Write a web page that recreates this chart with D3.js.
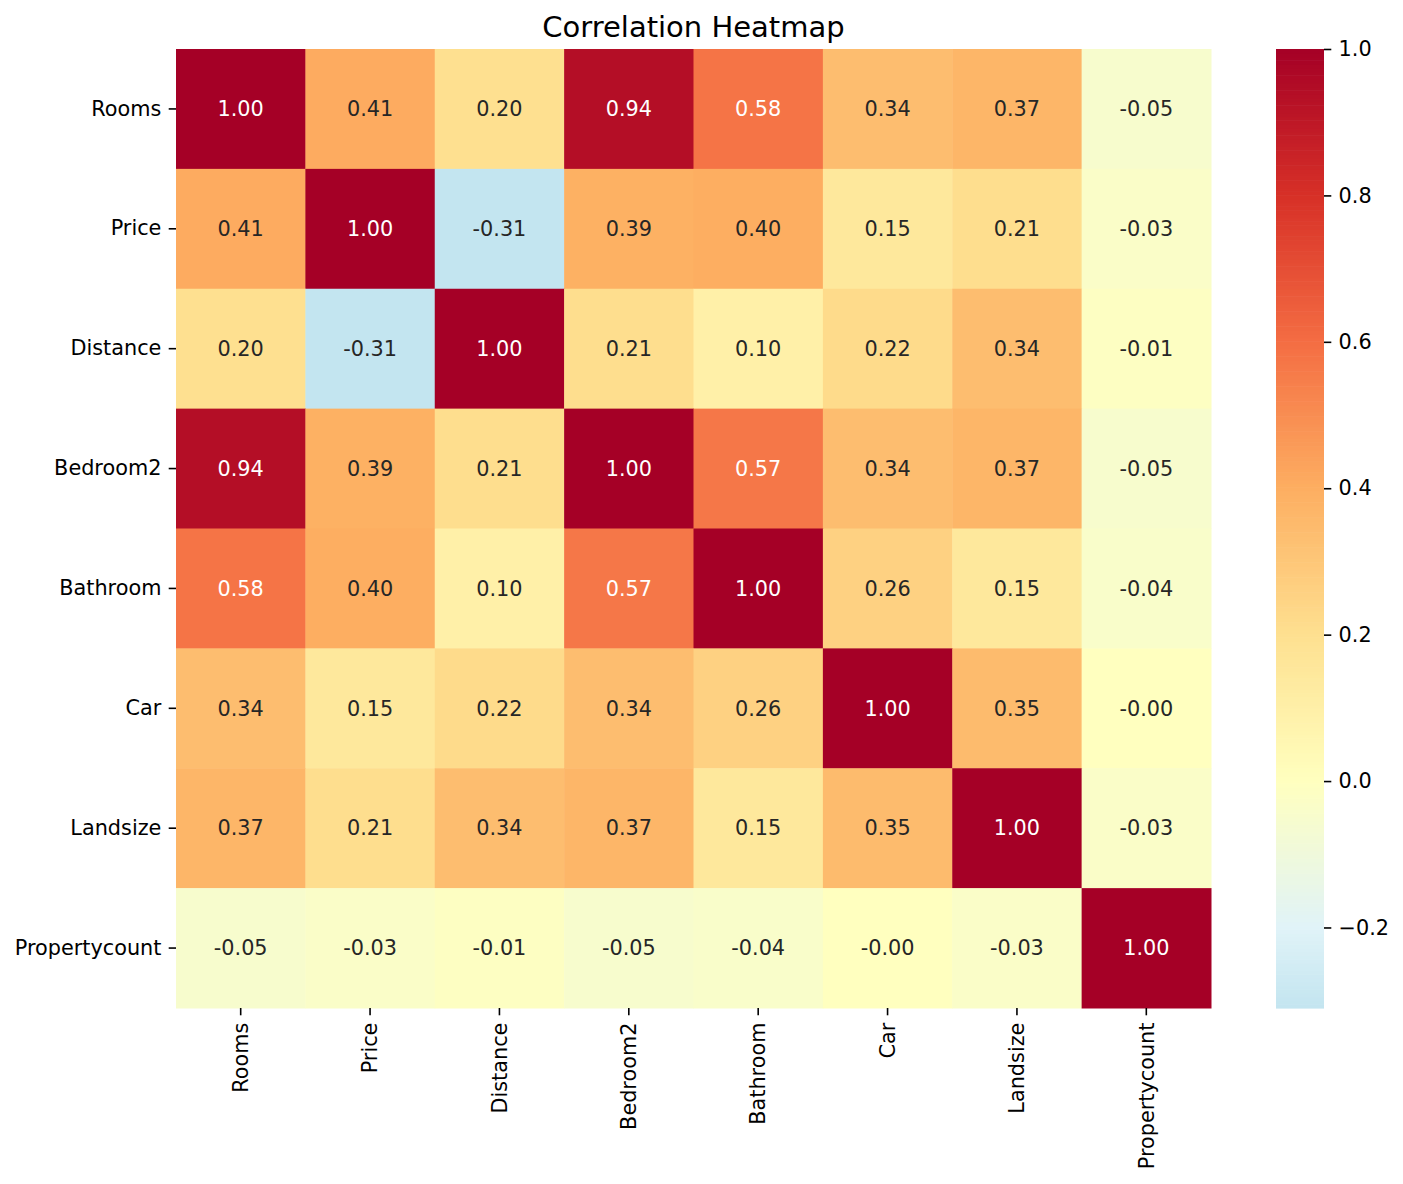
<!DOCTYPE html>
<html>
<head>
<meta charset="utf-8">
<script src="https://cdn.jsdelivr.net/npm/d3@7"></script>
<style>
  body { margin: 0; background: #fff; }
  text { font-family: "DejaVu Sans", sans-serif; }
</style>
</head>
<body>
<div id="chart"></div>
<script>
const labels = ["Rooms", "Price", "Distance", "Bedroom2", "Bathroom", "Car", "Landsize", "Propertycount"];

// correlation rows, same order as labels
const rooms    = [1.00, 0.41, 0.20, 0.94, 0.58, 0.34, 0.37, -0.05];
const price    = [0.41, 1.00, -0.31, 0.39, 0.40, 0.15, 0.21, -0.03];
const distance = [0.20, -0.31, 1.00, 0.21, 0.10, 0.22, 0.34, -0.01];
const bedroom2 = [0.94, 0.39, 0.21, 1.00, 0.57, 0.34, 0.37, -0.05];
const bathroom = [0.58, 0.40, 0.10, 0.57, 1.00, 0.26, 0.15, -0.04];
const car      = [0.34, 0.15, 0.22, 0.34, 0.26, 1.00, 0.35, -0.001];
const landsize = [0.37, 0.21, 0.34, 0.37, 0.15, 0.35, 1.00, -0.03];
const propcnt  = [-0.05, -0.03, -0.01, -0.05, -0.04, -0.001, -0.03, 1.00];
const matrix = [rooms, price, distance, bedroom2, bathroom, car, landsize, propcnt];

const cbarTicks = [-0.2, 0.0, 0.2, 0.4, 0.6, 0.8, 1.0];

const W = 1403, H = 1184;
const m = { left: 176, right: 1211, top: 49, bottom: 1008 };
const cbLeft = 1276, cbRight = 1324;
const fs = 20.8, tickLen = 7.3, tickPad = 7.3;

// RdYlBu_r, centred on 0 (seaborn center=0)
const rdylbu = ["#313695", "#4575b4", "#74add1", "#abd9e9", "#e0f3f8", "#ffffbf",
                "#fee090", "#fdae61", "#f46d43", "#d73027", "#a50026"];
const color = d3.scaleLinear()
  .domain(d3.range(11).map(i => -1 + i * 0.2))
  .range(rdylbu)
  .interpolate(d3.interpolateRgb)
  .clamp(true);

const flat = matrix.flatMap((row, i) => row.map((v, j) => ({ r: labels[i], c: labels[j], v })));
const vmin = d3.min(flat, d => d.v), vmax = d3.max(flat, d => d.v);

function lum(c) {
  const rgb = d3.rgb(c);
  const f = x => { x /= 255; return x <= 0.03928 ? x / 12.92 : Math.pow((x + 0.055) / 1.055, 2.4); };
  return 0.2126 * f(rgb.r) + 0.7152 * f(rgb.g) + 0.0722 * f(rgb.b);
}

const svg = d3.select("#chart").append("svg").attr("width", W).attr("height", H);

const x = d3.scaleBand().domain(labels).range([m.left, m.right]);
const y = d3.scaleBand().domain(labels).range([m.top, m.bottom]);

svg.append("g").selectAll("rect")
  .data(flat)
  .join("rect")
    .attr("x", d => x(d.c))
    .attr("y", d => y(d.r))
    .attr("width", x.bandwidth() + 0.5)
    .attr("height", y.bandwidth() + 0.5)
    .attr("fill", d => color(d.v));

svg.append("g").selectAll("text")
  .data(flat)
  .join("text")
    .attr("x", d => x(d.c) + x.bandwidth() / 2)
    .attr("y", d => y(d.r) + y.bandwidth() / 2)
    .attr("dy", "0.35em")
    .attr("text-anchor", "middle")
    .attr("font-size", fs)
    .attr("fill", d => lum(color(d.v)) > 0.408 ? "#262626" : "#fff")
    .text(d => d.v.toFixed(2));

// axes
const yAxis = svg.append("g")
  .attr("transform", `translate(${m.left},0)`)
  .call(d3.axisLeft(y).tickSize(tickLen).tickPadding(tickPad));
const xAxis = svg.append("g")
  .attr("transform", `translate(0,${m.bottom})`)
  .call(d3.axisBottom(x).tickSize(tickLen).tickPadding(tickPad));
xAxis.selectAll("text")
  .attr("transform", "rotate(-90)")
  .attr("text-anchor", "end")
  .attr("x", -(tickLen + tickPad))
  .attr("y", 0)
  .attr("dy", "0.35em");

// colorbar
const cy = d3.scaleLinear().domain([vmin, vmax]).range([m.bottom, m.top]);
const steps = d3.range(256).map(i => vmin + (vmax - vmin) * i / 256);
const stepH = (m.bottom - m.top) / 256;
svg.append("g").selectAll("rect")
  .data(steps)
  .join("rect")
    .attr("x", cbLeft)
    .attr("width", cbRight - cbLeft)
    .attr("y", d => cy(d) - stepH)
    .attr("height", stepH + 0.6)
    .attr("fill", d => color(d + (vmax - vmin) / 512));

const cAxis = svg.append("g")
  .attr("transform", `translate(${cbRight},0)`)
  .call(d3.axisRight(cy).tickValues(cbarTicks).tickFormat(d3.format(".1f")).tickSize(tickLen).tickPadding(tickPad));

[xAxis, yAxis, cAxis].forEach(a => {
  a.select(".domain").remove();
  a.selectAll("line").attr("stroke", "#000").attr("stroke-width", 1.6);
  a.selectAll("text").attr("font-size", fs).attr("fill", "#000")
    .style("font-family", "'DejaVu Sans', sans-serif");
});

svg.append("text")
  .attr("x", (m.left + m.right) / 2)
  .attr("y", 37)
  .attr("text-anchor", "middle")
  .attr("font-size", 29)
  .attr("fill", "#000")
  .text("Correlation Heatmap");
</script>
</body>
</html>
